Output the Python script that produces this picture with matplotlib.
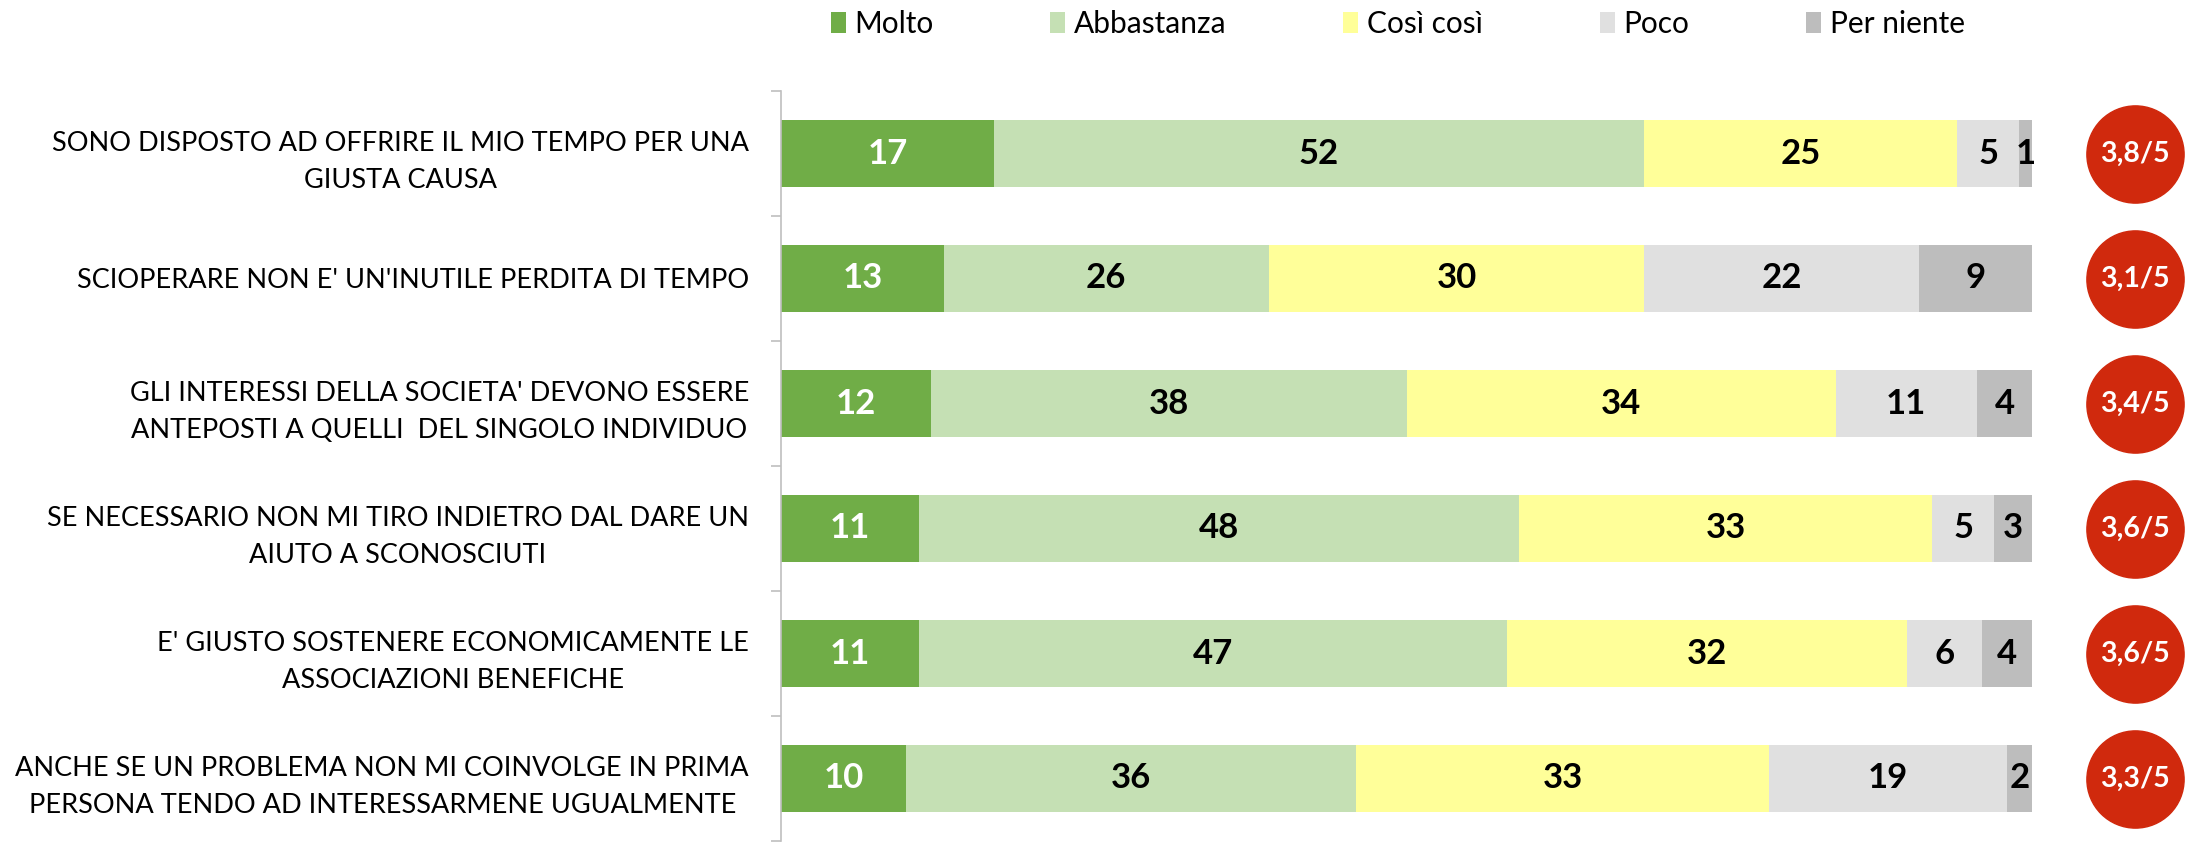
import numpy as np
import matplotlib
matplotlib.use("Agg")
import matplotlib.pyplot as plt

plt.rcParams['font.family'] = ['Lato', 'DejaVu Sans']

# dati
statements = [
    "SONO DISPOSTO AD OFFRIRE IL MIO TEMPO PER UNA\nGIUSTA CAUSA",
    "SCIOPERARE NON E' UN'INUTILE PERDITA DI TEMPO",
    "GLI INTERESSI DELLA SOCIETA' DEVONO ESSERE\nANTEPOSTI A QUELLI  DEL SINGOLO INDIVIDUO",
    "SE NECESSARIO NON MI TIRO INDIETRO DAL DARE UN\nAIUTO A SCONOSCIUTI",
    "E' GIUSTO SOSTENERE ECONOMICAMENTE LE\nASSOCIAZIONI BENEFICHE",
    "ANCHE SE UN PROBLEMA NON MI COINVOLGE IN PRIMA\nPERSONA TENDO AD INTERESSARMENE UGUALMENTE",
]
categories = ['Molto', 'Abbastanza', 'Così così', 'Poco', 'Per niente']
molto = [17, 13, 12, 11, 11, 10]
abbastanza = [52, 26, 38, 48, 47, 36]
cosi_cosi = [25, 30, 34.3, 33, 32, 33]
poco = [5, 22, 11.3, 5, 6, 19]
per_niente = [1, 9, 4.4, 3, 4, 2]
scores = ['3,8/5', '3,1/5', '3,4/5', '3,6/5', '3,6/5', '3,3/5']

colors = ['#70AD47', '#C5E0B4', '#FFFF99', '#E0E0E0', '#BDBDBD']
text_colors = ['white', 'black', 'black', 'black', 'black']

series = [molto, abbastanza, cosi_cosi, poco, per_niente]

fig = plt.figure(figsize=(21.85, 8.43), dpi=100)
ax = fig.add_axes([781 / 2185, 2 / 843, (2032 - 781) / 2185, (841 - 91) / 843])

y = np.arange(len(statements))
left = np.zeros(len(statements))
for vals, name, col, tcol in zip(series, categories, colors, text_colors):
    vals = np.array(vals, dtype=float)
    ax.barh(y, vals, left=left, height=0.536, color=col, label=name, edgecolor='none')
    for yi, (l, v) in enumerate(zip(left, vals)):
        ax.text(l + v / 2, yi, f"{v:.0f}", ha='center', va='center',
                fontsize=25, fontweight='bold', color=tcol)
    left += vals

# cerchi con il punteggio medio
circle_x = 108.2
ax.scatter([circle_x] * len(y), y, s=4900, color='#D0290D', clip_on=False, zorder=5)
for yi, sc in zip(y, scores):
    ax.text(circle_x, yi, sc, ha='center', va='center', fontsize=20.5,
            fontweight='bold', color='white', zorder=6, clip_on=False)

ax.set_xlim(0, 100)
ax.set_ylim(len(statements) - 0.5, -0.5)
ax.set_yticks(y)
ax.set_yticklabels(statements, fontsize=19.5)
for t in ax.get_yticklabels():
    t.set_multialignment('center')
    t.set_linespacing(1.6)
ax.set_yticks(np.arange(-0.5, len(statements) + 0.5, 1), minor=True)
ax.tick_params(axis='y', which='major', length=0, pad=23)
ax.tick_params(axis='y', which='minor', length=7, color='#BFBFBF', width=1.2)
ax.set_xticks([])
for s in ['top', 'right', 'bottom']:
    ax.spines[s].set_visible(False)
ax.spines['left'].set_color('#BFBFBF')
ax.spines['left'].set_linewidth(1.2)

fig.legend(loc='center', bbox_to_anchor=(0.6397, 1 - 24 / 843), ncol=5, frameon=False,
           fontsize=21.5, handlelength=0.5, handleheight=0.7, handletextpad=0.3,
           columnspacing=3.9)

fig.savefig('out.png', dpi=100)
